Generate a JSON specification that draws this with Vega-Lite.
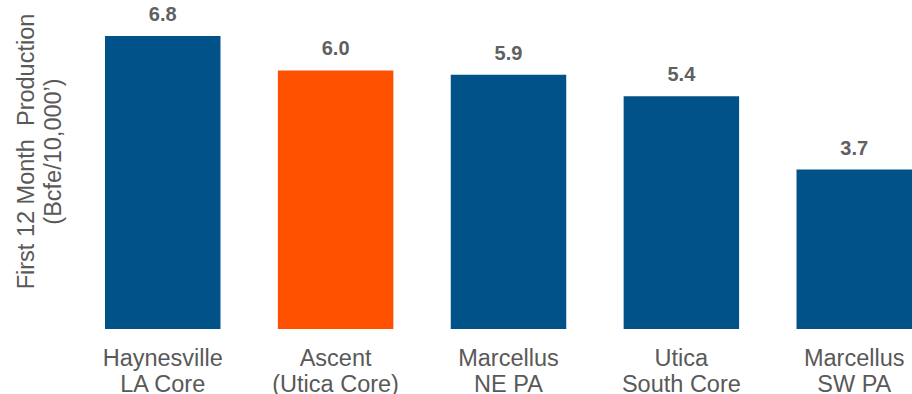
{
  "$schema": "https://vega.github.io/schema/vega-lite/v6.json",
  "width": 807,
  "height": 329,
  "autosize": {"type": "none"},
  "padding": {"left": 105, "top": 0, "right": 0, "bottom": 65},
  "background": "white",
  "config": {"view": {"stroke": null}, "font": "Liberation Sans"},
  "data": {
    "values": [
      {"basin": "Haynesville|LA Core", "value": 6.8, "group": "Peer"},
      {"basin": "Ascent|(Utica Core)", "value": 6.0, "group": "Ascent"},
      {"basin": "Marcellus|NE PA", "value": 5.9, "group": "Peer"},
      {"basin": "Utica|South Core", "value": 5.4, "group": "Peer"},
      {"basin": "Marcellus|SW PA", "value": 3.7, "group": "Peer"}
    ]
  },
  "encoding": {
    "x": {
      "field": "basin",
      "type": "nominal",
      "sort": null,
      "scale": {"paddingInner": 0.332, "paddingOuter": 0},
      "axis": {
        "title": null,
        "domain": false,
        "ticks": false,
        "tickSize": 0,
        "labelAngle": 0,
        "labelExpr": "split(datum.value, '|')",
        "labelFont": "Liberation Sans",
        "labelFontSize": 23.5,
        "labelLineHeight": 26,
        "labelColor": "#595959",
        "labelPadding": 17,
        "labelBaseline": "top"
      }
    },
    "y": {
      "field": "value",
      "type": "quantitative",
      "scale": {"domain": [0, 7.635], "nice": false},
      "axis": {
        "title": ["First 12 Month\u00a0 Production", "(Bcfe/10,000’)"],
        "labels": false,
        "ticks": false,
        "domain": false,
        "grid": false,
        "titleFont": "Liberation Sans",
        "titleFontSize": 23.5,
        "titleFontWeight": "normal",
        "titleColor": "#595959",
        "titleLineHeight": 27,
        "titleAngle": -90,
        "titleAlign": "center",
        "titleBaseline": "alphabetic",
        "titleX": -72,
        "titleY": 151
      }
    }
  },
  "layer": [
    {
      "mark": {"type": "bar"},
      "encoding": {
        "color": {
          "field": "group",
          "type": "nominal",
          "scale": {"domain": ["Peer", "Ascent"], "range": ["#005288", "#FF5000"]},
          "legend": null
        }
      }
    },
    {
      "mark": {
        "type": "text",
        "baseline": "alphabetic",
        "dy": -15,
        "font": "Liberation Sans",
        "fontSize": 20,
        "fontWeight": "bold",
        "color": "#606060"
      },
      "encoding": {
        "text": {"field": "value", "type": "quantitative", "format": ".1f"}
      }
    }
  ]
}
